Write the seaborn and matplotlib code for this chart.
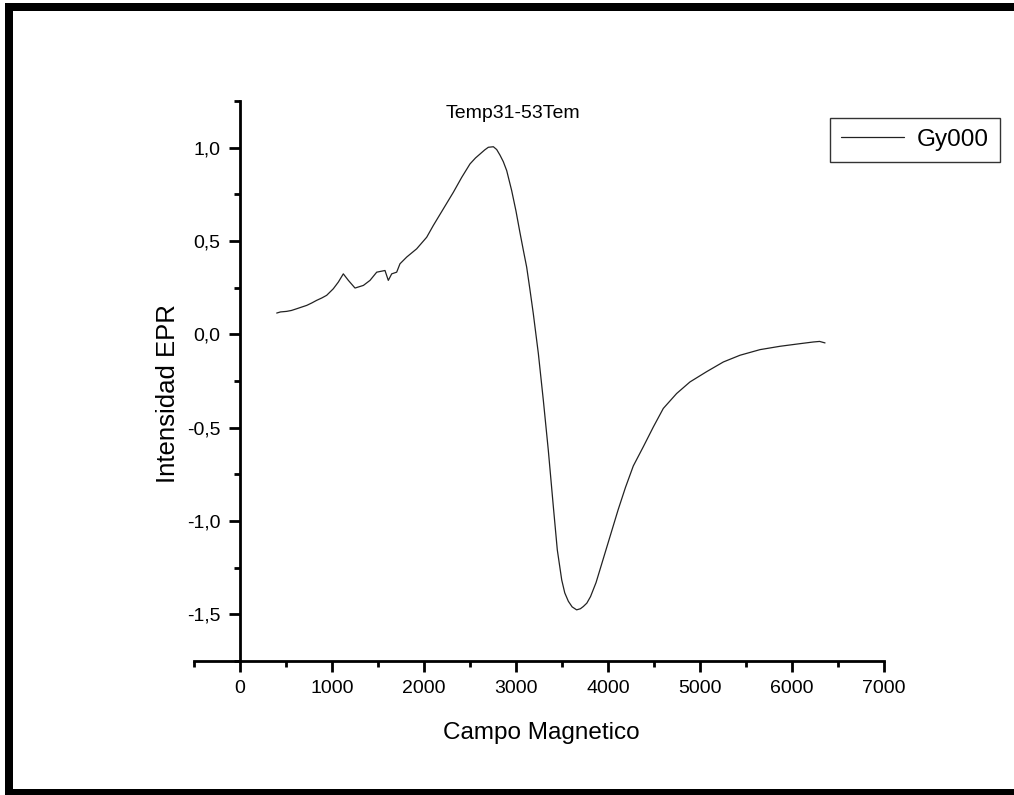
import numpy as np
import pandas as pd
import seaborn as sns
import matplotlib
matplotlib.use("Agg")
import matplotlib.pyplot as plt
from matplotlib.ticker import MultipleLocator, FuncFormatter
from matplotlib.patches import Rectangle
from matplotlib.lines import Line2D

# ---- data ----
campo = [399, 440, 507, 560, 616, 670, 725, 780, 833, 890, 942, 1014, 1069, 1123,
         1178, 1250, 1341, 1413, 1486, 1576, 1612, 1649, 1703, 1739, 1812, 1920,
         2029, 2101, 2210, 2319, 2410, 2500, 2560, 2609, 2660, 2699, 2754, 2790,
         2826, 2862, 2899, 2953, 3000, 3043, 3080, 3116, 3150, 3188, 3243, 3297,
         3351, 3406, 3449, 3497, 3530, 3569, 3610, 3659, 3700, 3732, 3770, 3810,
         3870, 3950, 4030, 4110, 4190, 4275, 4384, 4493, 4601, 4746, 4891, 5072,
         5254, 5435, 5652, 5870, 6087, 6232, 6300, 6359]
intensidad = [0.114, 0.120, 0.123, 0.128, 0.137, 0.146, 0.155, 0.168, 0.182, 0.195,
              0.209, 0.244, 0.280, 0.324, 0.289, 0.248, 0.262, 0.289, 0.333, 0.342,
              0.289, 0.324, 0.333, 0.378, 0.414, 0.458, 0.520, 0.583, 0.672, 0.761,
              0.841, 0.913, 0.945, 0.966, 0.988, 1.002, 1.005, 0.990, 0.960, 0.925,
              0.877, 0.770, 0.660, 0.545, 0.450, 0.360, 0.245, 0.111, -0.103, -0.353,
              -0.620, -0.924, -1.155, -1.316, -1.385, -1.430, -1.460, -1.476, -1.470,
              -1.458, -1.440, -1.405, -1.330, -1.200, -1.070, -0.940, -0.820, -0.705,
              -0.602, -0.496, -0.397, -0.317, -0.255, -0.200, -0.148, -0.112, -0.082,
              -0.064, -0.050, -0.041, -0.038, -0.046]
serie = "Gy000"
titulo = "Temp31-53Tem"
xlabel = "Campo Magnetico"
ylabel = "Intensidad EPR"

df = pd.DataFrame({"Campo": campo, "Intensidad": intensidad, "Serie": serie})

sns.set_style("white")
plt.rcParams["font.family"] = ["Liberation Sans", "DejaVu Sans"]
plt.rcParams["text.color"] = "black"

W, H = 1014, 795
fig = plt.figure(figsize=(W / 100, H / 100), dpi=100)
ax = fig.add_axes([194 / W, (H - 661) / H, (884 - 194) / W, (661 - 101) / H])

sns.lineplot(data=df, x="Campo", y="Intensidad", hue="Serie", palette=["#222222"],
             sort=False, estimator=None, linewidth=0.9, ax=ax, legend=False)

ax.set_xlim(-500, 7000)
ax.set_ylim(-1.75, 1.25)
ax.set_xlabel("")
ax.set_ylabel("")

for s in ["top", "right"]:
    ax.spines[s].set_visible(False)
for s in ["left", "bottom"]:
    ax.spines[s].set_linewidth(2.0)
    ax.spines[s].set_color("black")
ax.spines["left"].set_position(("data", 0))

ax.xaxis.set_major_locator(MultipleLocator(1000))
ax.xaxis.set_minor_locator(MultipleLocator(500))
ax.yaxis.set_major_locator(MultipleLocator(0.5))
ax.yaxis.set_minor_locator(MultipleLocator(0.25))
ax.yaxis.set_major_formatter(FuncFormatter(lambda v, p: f"{v:.1f}".replace(".", ",")))
ax.xaxis.set_major_formatter(FuncFormatter(lambda v, p: f"{int(round(v))}" if v >= 0 else ""))

ax.tick_params(axis="both", which="major", direction="out", length=8, width=2,
               labelsize=14, colors="black", labelcolor="black", pad=6)
ax.tick_params(axis="both", which="minor", direction="out", length=4, width=2, colors="black")
ax.tick_params(axis="x", which="both", bottom=True)
ax.tick_params(axis="y", which="both", left=True)
ax.set_facecolor("white")

# texts
fig.text(513 / W, 1 - 113 / H, titulo, ha="center", va="center", fontsize=14, color="black")
fig.text(541 / W, 1 - 733 / H, xlabel, ha="center", va="center", fontsize=17.5, color="black")
fig.text(168 / W, 1 - 394 / H, ylabel, ha="center", va="center", fontsize=18.5,
         rotation=90, color="black")

# legend
h = [Line2D([0], [0], color="#222222", linewidth=0.9)]
leg = fig.legend(h, [serie], loc="upper right", bbox_to_anchor=(1000 / W, 1 - 118 / H),
                 bbox_transform=fig.transFigure, frameon=True, fancybox=False,
                 fontsize=17.5, handlelength=2.6, handletextpad=0.55, borderpad=0.45,
                 borderaxespad=0, labelcolor="black")
leg.get_frame().set_edgecolor("black")
leg.get_frame().set_linewidth(1.0)

# thick border (left, top, bottom)
def prect(x0, y0, x1, y1):
    fig.patches.append(Rectangle((x0 / W, 1 - y1 / H), (x1 - x0) / W, (y1 - y0) / H,
                                 transform=fig.transFigure, facecolor="black",
                                 edgecolor="none", zorder=10))
prect(5, 3, 13, 795)
prect(5, 3, 1014, 11)
prect(5, 789, 1014, 795)

fig.savefig("out.png", dpi=100, facecolor="white")
